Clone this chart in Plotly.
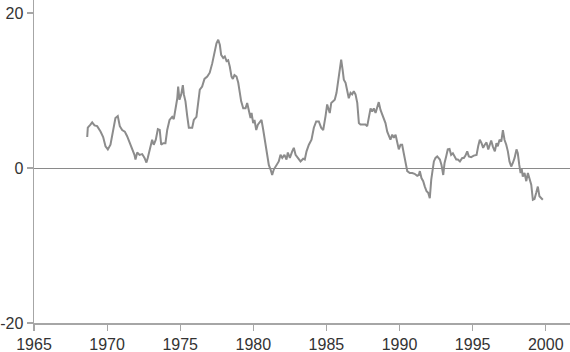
import plotly.graph_objects as go

years = [
    1968.64, 1968.68, 1968.86, 1968.98, 1969.14, 1969.32, 1969.55, 1969.73, 1969.89, 1970.05,
    1970.23, 1970.42, 1970.57, 1970.73, 1970.87, 1971.03, 1971.21, 1971.37, 1971.55, 1971.72,
    1971.87, 1971.94, 1972.06, 1972.22, 1972.40, 1972.56, 1972.69, 1972.78, 1972.97, 1973.08,
    1973.19, 1973.33, 1973.47, 1973.60, 1973.70, 1973.84, 1973.99, 1974.11, 1974.27, 1974.45,
    1974.56, 1974.68, 1974.80, 1974.86, 1974.95, 1975.07, 1975.18, 1975.25, 1975.36, 1975.48,
    1975.59, 1975.82, 1975.93, 1976.11, 1976.23, 1976.34, 1976.50, 1976.66, 1976.85, 1977.02,
    1977.19, 1977.35, 1977.48, 1977.60, 1977.71, 1977.80, 1977.94, 1978.05, 1978.17, 1978.28,
    1978.39, 1978.51, 1978.60, 1978.71, 1978.85, 1978.97, 1979.08, 1979.17, 1979.31, 1979.47,
    1979.58, 1979.69, 1979.81, 1979.88, 1979.99, 1980.08, 1980.20, 1980.31, 1980.44, 1980.56,
    1980.68, 1980.83, 1980.95, 1981.06, 1981.18, 1981.29, 1981.40, 1981.59, 1981.74, 1981.86,
    1981.98, 1982.13, 1982.27, 1982.36, 1982.50, 1982.66, 1982.77, 1982.89, 1983.04,
    1983.23, 1983.41, 1983.52, 1983.64, 1983.80, 1983.98, 1984.14, 1984.30, 1984.48, 1984.64,
    1984.78, 1984.94, 1985.05, 1985.16, 1985.23, 1985.33, 1985.46, 1985.57, 1985.69, 1985.80,
    1985.92, 1986.01, 1986.12, 1986.19, 1986.31, 1986.42, 1986.53, 1986.65, 1986.76, 1986.87,
    1986.99, 1987.11, 1987.22, 1987.33, 1987.52, 1987.67, 1987.79, 1987.90, 1988.02, 1988.13,
    1988.24, 1988.36, 1988.47, 1988.58, 1988.70, 1988.82, 1988.93, 1989.04, 1989.16, 1989.27,
    1989.38, 1989.50, 1989.61, 1989.73, 1989.84, 1989.95, 1990.07, 1990.18, 1990.29, 1990.41,
    1990.53, 1990.70, 1990.87, 1991.03, 1991.21, 1991.32, 1991.39, 1991.50, 1991.62, 1991.73,
    1991.85, 1991.96, 1992.07, 1992.17, 1992.26, 1992.35, 1992.46, 1992.58, 1992.76, 1992.87,
    1992.99, 1993.08, 1993.19, 1993.30, 1993.42, 1993.53, 1993.65, 1993.76, 1993.88, 1993.99,
    1994.13, 1994.29, 1994.40, 1994.51, 1994.63, 1994.74, 1994.90, 1995.08, 1995.27, 1995.38,
    1995.49, 1995.61, 1995.72, 1995.83, 1995.95, 1996.07, 1996.18, 1996.27, 1996.38, 1996.52,
    1996.63, 1996.72, 1996.84, 1996.96, 1997.07, 1997.18, 1997.30, 1997.41, 1997.52, 1997.64,
    1997.75, 1997.87, 1998.00, 1998.09, 1998.19, 1998.28, 1998.35, 1998.43, 1998.55, 1998.67,
    1998.78, 1998.89, 1999.01, 1999.12, 1999.23, 1999.35, 1999.46, 1999.57, 1999.69, 1999.80,
]

values = [
    4.0, 5.2, 5.6, 5.9, 5.5, 5.4, 4.7, 4.0, 2.8, 2.4,
    3.0, 4.9, 6.45, 6.7, 5.4, 4.9, 4.7, 4.1, 3.2, 2.6,
    1.7, 1.1, 2.0, 1.7, 1.8, 1.3, 0.7, 1.3, 3.0, 3.65,
    3.0, 3.65, 5.0, 4.9, 3.0, 3.2, 3.2, 4.9, 6.2, 6.6,
    6.3, 7.5, 9.0, 10.5, 8.8, 9.5, 10.7, 9.5, 8.6, 6.7,
    5.2, 5.2, 6.2, 6.6, 8.4, 10.1, 10.5, 11.5, 11.8, 12.3,
    13.5, 14.8, 16.1, 16.55, 15.9, 14.6, 14.2, 14.4, 13.8, 13.9,
    13.1, 11.8, 11.5, 12.0, 11.8, 11.0, 9.7, 8.6, 7.7, 7.7,
    8.4, 7.3, 6.45, 7.1, 5.8, 6.2, 4.9, 5.6, 6.0, 6.2,
    4.9, 3.2, 1.9, 0.4, -0.2, -0.9, -0.2, 0.4, 0.85, 1.7,
    1.3, 1.7, 1.1, 2.0, 1.3, 2.15, 2.6, 1.7, 1.3,
    0.85, 1.2, 1.1, 2.15, 3.0, 3.65, 5.2, 6.0, 6.0, 5.2,
    4.9, 6.7, 8.2, 7.5, 7.1, 8.4, 8.6, 8.8, 9.7, 11.4,
    12.7, 14.0, 12.5, 11.4, 11.0, 10.1, 9.0, 9.7, 9.5, 9.9,
    9.5, 8.4, 5.8, 5.6, 5.6, 5.6, 5.4, 6.7, 7.7, 7.3,
    7.7, 7.1, 7.7, 8.5, 7.5, 6.9, 6.45, 5.8, 4.7, 4.1,
    3.65, 4.3, 3.9, 4.3, 3.4, 2.4, 3.0, 3.0, 1.9, 0.65,
    -0.4, -0.65, -0.65, -0.75, -1.0, -0.9, -0.4, -1.3, -1.7, -2.4,
    -3.0, -3.2, -3.9, -1.5, 0.0, 0.85, 1.3, 1.5, 1.1, 0.4,
    -0.9, 0.65, 1.5, 2.4, 2.45, 1.7, 1.9, 1.5, 1.1, 1.1,
    0.85, 1.3, 1.3, 1.6, 2.15, 1.5, 1.4, 1.6, 1.7, 2.8,
    3.65, 3.2, 2.6, 3.0, 3.3, 2.4, 3.2, 3.55, 2.8, 2.15,
    3.2, 2.8, 3.65, 3.4, 4.9, 3.65, 3.0, 2.15, 0.85, 0.2,
    0.65, 1.3, 2.4, 1.9, 0.4, -0.65, 0.0, -1.1, -0.65, -1.7,
    -0.65, -1.3, -2.15, -4.1, -4.0, -3.2, -2.4, -3.65, -3.9, -4.1,
]

x_ticks = [1965, 1970, 1975, 1980, 1985, 1990, 1995, 2000]
y_ticks = [-20, 0, 20]
y_tick_labels = ["-20", "0", "20"]

fig = go.Figure()
fig.add_trace(go.Scatter(
    x=years, y=values, mode="lines",
    line=dict(color="#8c8c8c", width=2),
    hoverinfo="skip", showlegend=False,
))

axis_col = "#a6a6a6"
font = dict(family="Liberation Sans, Arial, sans-serif", size=16, color="#333333")

fig.update_layout(
    width=570, height=352,
    margin=dict(l=34, r=0, t=0, b=29),
    paper_bgcolor="white", plot_bgcolor="white",
    font=font,
    xaxis=dict(
        range=[1965, 2001.66], tickmode="array", tickvals=x_ticks,
        ticktext=[str(v) for v in x_ticks], automargin=False,
        showline=True, linecolor=axis_col, linewidth=1.5,
        ticks="outside", ticklen=6, tickcolor=axis_col, tickwidth=1.2,
        showgrid=False, zeroline=False, tickfont=font, ticklabelstandoff=0,
    ),
    yaxis=dict(
        range=[-20, 21.68], tickmode="array", tickvals=y_ticks,
        ticktext=y_tick_labels, automargin=False,
        showline=True, linecolor=axis_col, linewidth=1.5,
        ticks="outside", ticklen=6, tickcolor=axis_col, tickwidth=1.2,
        showgrid=False, zeroline=True, zerolinecolor="#8a8a8a", zerolinewidth=1,
        tickfont=font, ticklabelstandoff=0,
    ),
)

fig.write_html(
    "out.html",
    config={"displayModeBar": False, "staticPlot": True},
    post_script="document.body.style.margin='0';document.body.style.overflow='hidden';",
)
